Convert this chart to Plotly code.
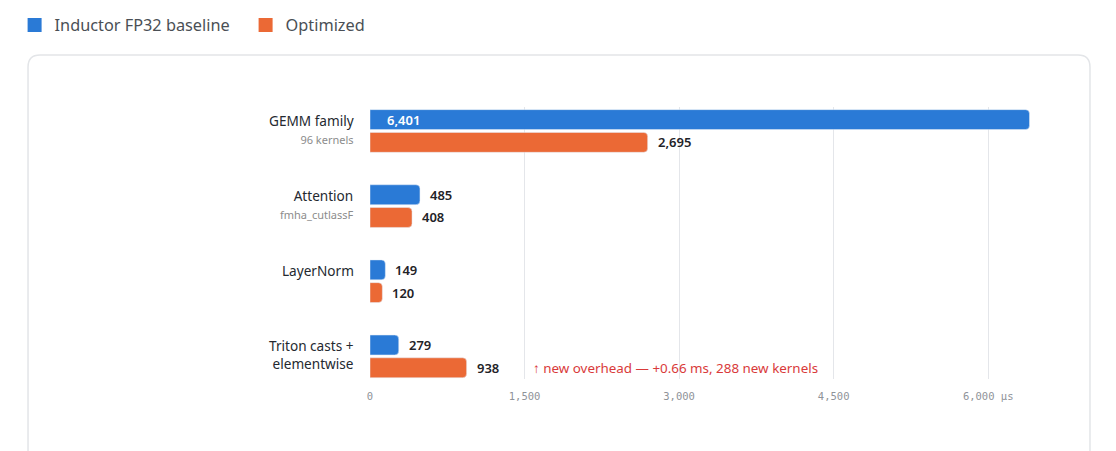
import plotly.graph_objects as go

categories = ["GEMM family", "Attention", "LayerNorm", "Triton casts +<br>elementwise"]
sublabels = ["96 kernels", "fmha_cutlassF", "", ""]
baseline_us = [6401, 485, 149, 279]
optimized_us = [2695, 408, 120, 938]
tick_vals = [0, 1500, 3000, 4500, 6000]
tick_text = ["0", "1,500", "3,000", "4,500", "6,000 µs"]
note = "↑ new overhead — +0.66 ms, 288 new kernels"

BLUE = "#2a7ad6"
ORANGE = "#eb6935"
FONT = "Noto Sans, Open Sans, sans-serif"
DARK = "#1f2328"

# page body adds an 8px margin, so the figure is laid out 8px in from the window
W, H = 1100, 443
L, R, T, B = 362, 58, 99, 72

fig = go.Figure()
fig.add_trace(go.Bar(
    y=categories, x=baseline_us, orientation="h", name="Inductor FP32 baseline",
    marker=dict(color=BLUE), width=0.265, offset=-0.285, showlegend=False,
))
fig.add_trace(go.Bar(
    y=categories, x=optimized_us, orientation="h", name="Optimized",
    marker=dict(color=ORANGE), width=0.265, offset=0.018, showlegend=False,
))
# legend entries with bigger square swatches
for name, col in [("Inductor FP32 baseline", BLUE), ("Optimized", ORANGE)]:
    fig.add_trace(go.Scatter(x=[None], y=[None], mode="markers", name=name,
                             marker=dict(symbol="square", size=14, color=col)))

# value labels
for i, cat in enumerate(categories):
    for vals, ys in [(baseline_us, 11.5), (optimized_us, -11.3)]:
        v = vals[i]
        inside = vals is baseline_us and i == 0
        fig.add_annotation(
            x=0 if inside else v, y=cat, xref="x", yref="y",
            xanchor="left", xshift=15 if inside else 8, yshift=ys,
            text=f"{v:,}", showarrow=False,
            font=dict(size=13, color="white" if inside else DARK, family=FONT, weight=600),
        )

# category labels on the left
for cat, sub in zip(categories, sublabels):
    txt = cat if not sub else f"{cat}<br><span style='font-size:11px;color:#8c8c8c'>{sub}</span>"
    fig.add_annotation(
        x=0, xref="paper", xanchor="right", xshift=-14,
        y=cat, yref="y", yanchor="middle", yshift=2 if sub or "<br>" in cat else 11,
        text=txt, showarrow=False, align="right",
        font=dict(size=13.6, color="#24292f", family=FONT),
    )

fig.add_annotation(
    x=optimized_us[3], y=categories[3], xref="x", yref="y",
    xanchor="left", xshift=64, yshift=-11.3,
    text=note, showarrow=False,
    font=dict(size=13.4, color="#d93a3a", family=FONT),
)

# card background with rounded corners
pw, ph = W - L - R, H - T - B
def P(px, py):
    return f"{(px - L) / pw:.4f},{(H - B - py) / ph:.4f}"

x0, y0, x1, y1, r = 20, 47, 1082, 480, 12
path = (f"M {P(x0 + r, y0)} L {P(x1 - r, y0)} Q {P(x1, y0)} {P(x1, y0 + r)} "
        f"L {P(x1, y1 - r)} Q {P(x1, y1)} {P(x1 - r, y1)} L {P(x0 + r, y1)} "
        f"Q {P(x0, y1)} {P(x0, y1 - r)} L {P(x0, y0 + r)} Q {P(x0, y0)} {P(x0 + r, y0)} Z")
fig.add_shape(type="path", path=path, xref="paper", yref="paper",
              line=dict(color="#e3e5e8", width=1.5), fillcolor="white", layer="below")

fig.update_layout(
    width=W, height=H,
    margin=dict(l=L, r=R, t=T, b=B),
    paper_bgcolor="white", plot_bgcolor="rgba(0,0,0,0)",
    barmode="overlay", barcornerradius=4,
    font=dict(family=FONT, color="#24292f"),
    showlegend=True,
    legend=dict(orientation="h", xref="container", yref="container",
                x=0.006, y=1, xanchor="left", yanchor="top",
                font=dict(size=16.3, color="#4a4f55", family=FONT),
                bgcolor="rgba(0,0,0,0)", entrywidth=186, entrywidthmode="pixels",
                traceorder="normal", itemsizing="trace"),
    xaxis=dict(range=[0, 6600], tickvals=tick_vals, ticktext=tick_text,
               showgrid=True, gridcolor="#e4e6ea", gridwidth=1,
               zeroline=False, showline=False, ticks="", ticklabelstandoff=9,
               tickfont=dict(family="DejaVu Sans Mono, monospace", size=10.5, color="#8f9399")),
    yaxis=dict(categoryorder="array", categoryarray=categories,
               range=[3.30, -0.32], showticklabels=False, showgrid=False,
               zeroline=False, showline=False, ticks=""),
)

fig.write_html("out.html")
